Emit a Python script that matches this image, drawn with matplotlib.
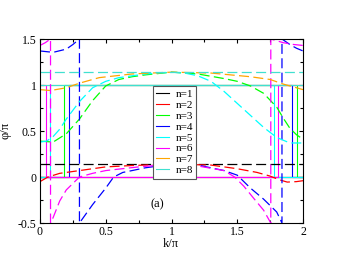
import numpy as np
import matplotlib
matplotlib.use("Agg")
from matplotlib import pyplot as plt

plt.rcParams['font.family'] = ['Liberation Serif', 'DejaVu Serif']
plt.rcParams['axes.unicode_minus'] = False

labels = ["n=1", "n=2", "n=3", "n=4", "n=5", "n=6", "n=7", "n=8"]
colors = ["#000000", "#ff0000", "#00ff00", "#0000ff", "#00ffff", "#ff00ff", "#ffa500", "#40e0d0"]

# quantized phase (solid lines)
solid_k = [
    [0, 2],
    [0, 2],
    [0, 0.18, 0.18, 1.952, 1.952, 2],
    [0, 0.22, 0.22, 1.914, 1.914, 2],
    [0, 0.076, 0.076, 1.777, 1.777, 2],
    [0, 0.043, 0.043, 1.81, 1.81, 2],
    [0, 2],
    [0, 2],
]
solid_phi = [
    [0, 0],
    [0, 0],
    [0, 0, 1, 1, 0, 0],
    [0, 0, 1, 1, 0, 0],
    [0, 0, 1, 1, 0, 0],
    [1, 1, 0, 0, 1, 1],
    [1, 1],
    [1, 1],
]

# continuous phase (dashed lines)
k1 = [0, 2]
phi1 = [0.14, 0.14]
k2 = [0, 0.06, 0.15, 0.3, 0.5, 0.7, 1.0, 1.3, 1.5, 1.65, 1.75, 1.82, 1.88, 1.95, 2.0]
phi2 = [-0.05, 0.0, 0.04, 0.07, 0.11, 0.125, 0.14, 0.13, 0.09, 0.05, 0.01, -0.03, -0.055, -0.05, -0.04]
k3 = [0, 0.1, 0.2, 0.3, 0.4, 0.5, 0.6, 0.7, 0.8, 1.0, 1.2, 1.4, 1.5, 1.6, 1.7, 1.8, 1.85, 1.9, 1.95, 2.0]
phi3 = [0.39, 0.38, 0.47, 0.63, 0.83, 0.99, 1.06, 1.09, 1.11, 1.14, 1.12, 1.07, 1.04, 0.99, 0.91, 0.76, 0.64, 0.53, 0.46, 0.41]
k4 = [0, 0.1, 0.2, 0.25, 0.3, 0.3, 0.4, 0.5, 0.56, 0.63, 0.7, 0.8, 0.9, 1.0, 1.2, 1.4, 1.5, 1.6, 1.7, 1.8, 1.84, 1.84, 1.9, 1.95, 2.0]
phi4 = [1.37, 1.355, 1.39, 1.44, 1.5, -0.5, -0.3, -0.12, 0.0, 0.05, 0.07, 0.1, 0.12, 0.14, 0.13, 0.07, 0.02, -0.12, -0.24, -0.38, -0.5, 1.5, 1.44, 1.40, 1.37]
k5 = [0, 0.05, 0.1, 0.15, 0.2, 0.3, 0.4, 0.5, 0.6, 0.7, 0.8, 0.9, 1.0, 1.1, 1.2, 1.3, 1.4, 1.5, 1.6, 1.7, 1.8, 1.9, 2.0]
phi5 = [0.38, 0.39, 0.44, 0.52, 0.63, 0.82, 0.97, 1.04, 1.08, 1.10, 1.12, 1.13, 1.14, 1.13, 1.10, 1.04, 0.93, 0.80, 0.67, 0.54, 0.43, 0.37, 0.37]
k6 = [0, 0.04, 0.08, 0.08, 0.1, 0.15, 0.2, 0.3, 0.4, 0.5, 0.75, 1.0, 1.2, 1.4, 1.48, 1.55, 1.63, 1.7, 1.755, 1.755, 1.85, 1.93, 2.0]
phi6 = [1.43, 1.46, 1.5, -0.5, -0.44, -0.26, -0.14, 0.0, 0.04, 0.07, 0.11, 0.14, 0.12, 0.07, 0.0, -0.1, -0.24, -0.36, -0.5, 1.5, 1.46, 1.44, 1.43]
k7 = [0, 0.08, 0.2, 0.3, 0.45, 0.7, 1.0, 1.3, 1.6, 1.75, 1.85, 1.95, 2.0]
phi7 = [0.95, 0.94, 0.97, 1.02, 1.08, 1.12, 1.14, 1.13, 1.09, 1.06, 1.01, 0.97, 0.95]
k8 = [0, 2]
phi8 = [1.14, 1.14]

dash_k = [k1, k2, k3, k4, k5, k6, k7, k8]
dash_phi = [phi1, phi2, phi3, phi4, phi5, phi6, phi7, phi8]

xticks = [0, 0.5, 1, 1.5, 2]
xticklabels = ["0", "0.5", "1", "1.5", "2"]
yticks = [-0.5, 0, 0.5, 1, 1.5]
yticklabels = ["-0.5", "0", "0.5", "1", "1.5"]

fig = plt.figure(figsize=(3.41, 2.63), dpi=100)
ax = fig.add_axes([0.1173, 0.152, 0.7713, 0.6997])

for i in range(8):
    ax.plot(solid_k[i], solid_phi[i], color=colors[i], lw=0.8, label=labels[i])
for i in range(8):
    ax.plot(dash_k[i], dash_phi[i], color=colors[i], lw=0.9, dashes=(8, 3.5))

ax.set_xlim(0, 2)
ax.set_ylim(-0.5, 1.5)
ax.set_xticks(xticks)
ax.set_xticklabels(xticklabels)
ax.set_yticks(yticks)
ax.set_yticklabels(yticklabels)
ax.set_xticks(np.arange(0, 2.01, 0.25), minor=True)
ax.set_yticks(np.arange(-0.5, 1.51, 0.25), minor=True)
ax.tick_params(which='both', direction='in', top=True, right=True, labelsize=8.5, width=0.8)
ax.tick_params(which='major', length=3, pad=2.5)
ax.tick_params(which='minor', length=2.2)
for s in ax.spines.values():
    s.set_linewidth(0.8)

ax.set_xlabel("k/π", fontsize=9)
ax.set_ylabel("φ/π", fontsize=9)
ax.xaxis.set_label_coords(0.498, -0.082)
ax.yaxis.set_label_coords(-0.11, 0.505)

ax.text(0.893, -0.3, "(a)", fontsize=9, ha='center', va='center')

leg = ax.legend(loc='upper left', bbox_to_anchor=(0.43, 0.745), borderaxespad=0,
                fontsize=8, handlelength=1.1, handletextpad=0.6, labelspacing=0.1,
                borderpad=0.3, fancybox=False, framealpha=1)
leg.get_frame().set_edgecolor('#555555')
leg.get_frame().set_linewidth(0.8)

fig.savefig("out.png", dpi=100)
